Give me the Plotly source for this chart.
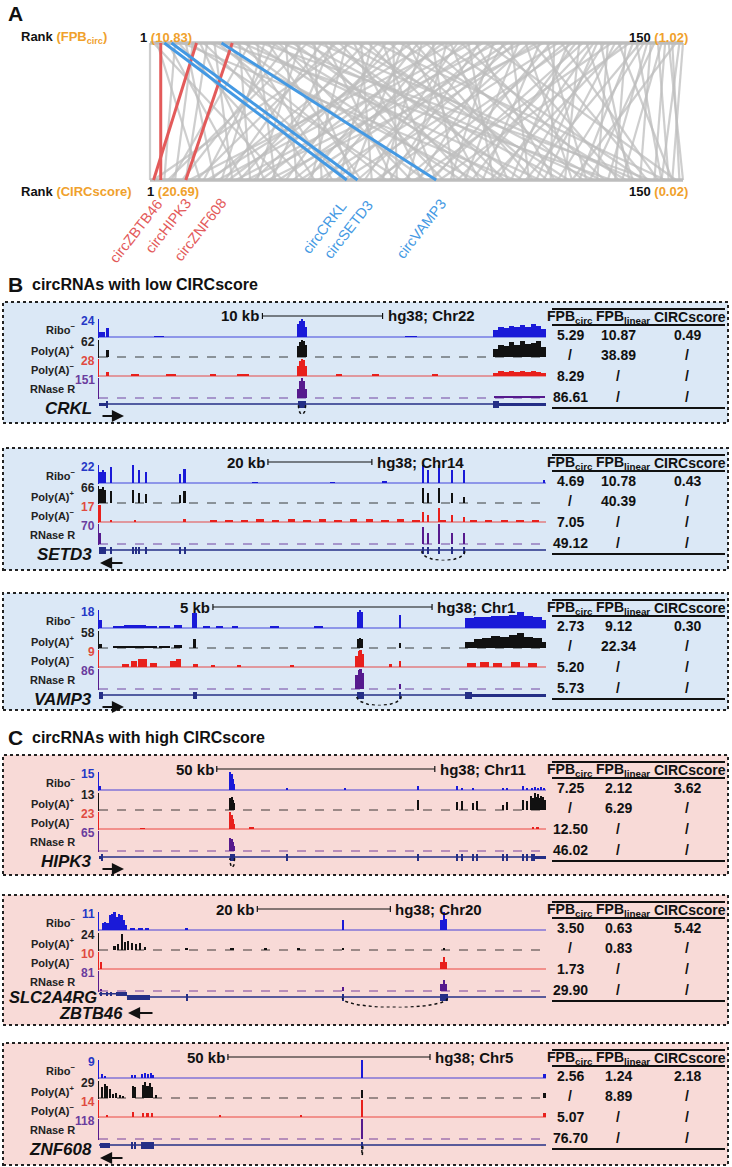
import numpy as np
import plotly.graph_objects as go

W, H = 732, 1167
FONT = "Liberation Sans, Arial, sans-serif"

# ---------------- Panel A data ----------------
FPB_RANKS = list(range(1, 151))
GRAY_CIRC_RANK = [1, 38, 15, 9, 62, 27, 84, 5, 44, 103,
                  19, 71, 8, 120, 33, 56, 11, 92, 24, 67,
                  4, 130, 47, 13, 78, 29, 110, 52, 7, 88,
                  36, 141, 21, 60, 99, 16, 74, 125, 42, 10,
                  95, 58, 31, 116, 6, 83, 49, 137, 22, 69,
                  105, 35, 14, 90, 127, 46, 2, 77, 118, 63,
                  26, 100, 54, 145, 18, 81, 39, 112, 70, 30,
                  134, 57, 93, 23, 108, 45, 66, 122, 17, 86,
                  50, 139, 32, 73, 101, 12, 61, 128, 41, 97,
                  20, 114, 68, 37, 148, 53, 85, 25, 132, 76,
                  43, 107, 59, 89, 28, 119, 65, 140, 48, 94,
                  34, 123, 80, 113, 55, 143, 72, 102, 64, 91,
                  117, 79, 136, 87, 98, 109, 135, 104, 126, 75,
                  111, 147, 96, 131, 82, 121, 144, 106, 115, 129,
                  138, 124, 146, 133, 142, 150, 149, 119, 144, 147]
HL_NAMES = ["circZBTB46", "circHIPK3", "circZNF608", "circCRKL", "circSETD3", "circVAMP3"]
HL_FPB_RANK = [14, 4, 24, 5, 7, 21]
HL_CIRC_RANK = [2, 4, 11, 56, 59, 81]
HL_GROUP = ["high", "high", "high", "low", "low", "low"]
FPB_RANGE_TEXT = ["10.83", "1.02"]
CIRC_RANGE_TEXT = ["20.69", "0.02"]

# ---------------- Panel B/C data ----------------
TRACK_NAMES = ["Ribo<sup>−</sup>", "Poly(A)<sup>+</sup>", "Poly(A)<sup>−</sup>", "RNase R"]
TABLE_HEADER = ["FPB<sub>circ</sub>", "FPB<sub>linear</sub>", "CIRCscore"]

# CRKL
CRKL_VIEW_KB = 37.2
CRKL_SCALE = (13.6, 10, "10 kb", "hg38; Chr22")
CRKL_MAX = [24, 62, 28, 151]
CRKL_RIBO = [(0.25, 7, 0.5), (0.7, 12, 0.25), (5.0, 1, 0.8), (26.0, 1, 1.0),
             (16.6, 17, 0.15), (16.75, 22, 0.15), (16.9, 24, 0.15), (17.05, 21, 0.15), (17.2, 14, 0.15),
             (33.0, 10, 0.45), (33.45, 13, 0.45), (33.9, 12, 0.45), (34.35, 15, 0.45), (34.8, 13, 0.45),
             (35.25, 16, 0.45), (35.7, 14, 0.45), (36.15, 17, 0.45), (36.6, 15, 0.45), (37.0, 11, 0.4)]
CRKL_POLYA_P = [(0.7, 25, 0.25), (16.6, 40, 0.15), (16.75, 55, 0.15), (16.9, 62, 0.15), (17.05, 58, 0.15),
                (17.2, 42, 0.15), (33.0, 30, 0.45), (33.45, 45, 0.45), (33.9, 40, 0.45), (34.35, 55, 0.45),
                (34.8, 42, 0.45), (35.25, 57, 0.45), (35.7, 48, 0.45), (36.15, 52, 0.45), (36.6, 58, 0.45),
                (37.0, 38, 0.4)]
CRKL_POLYA_M = [(0.7, 6, 0.25), (3.0, 2, 0.6), (6.0, 2, 0.8), (9.5, 2, 0.5), (12.0, 3, 1.0), (20.0, 2, 0.5),
                (23.0, 2, 0.6), (28.0, 2, 0.5), (16.6, 16, 0.15), (16.75, 24, 0.15), (16.9, 28, 0.15),
                (17.05, 26, 0.15), (17.2, 16, 0.15), (33.0, 5, 0.45), (33.45, 8, 0.45), (33.9, 6, 0.45),
                (34.35, 9, 0.45), (34.8, 6, 0.45), (35.25, 8, 0.45), (35.7, 7, 0.45), (36.15, 9, 0.45),
                (36.6, 7, 0.45), (37.0, 5, 0.4)]
CRKL_RNASE = [(16.6, 70, 0.15), (16.75, 125, 0.15), (16.9, 151, 0.15), (17.05, 130, 0.15), (17.2, 65, 0.15),
              (35.0, 18, 4.2)]
CRKL_EXONS = [(0.0, 0.6, 0.5), (0.6, 0.75, 1), (16.6, 17.2, 1), (32.8, 33.3, 1), (33.3, 37.2, 0.5)]
CRKL_SPAN = (0.0, 37.2)
CRKL_CIRC = (16.6, 17.2)
CRKL_TABLE = [["5.29", "10.87", "0.49"], ["/", "38.89", "/"], ["8.29", "/", "/"], ["86.61", "/", "/"]]

# SETD3
SETD3_VIEW_KB = 86.0
SETD3_SCALE = (32.5, 20, "20 kb", "hg38; Chr14")
SETD3_MAX = [22, 66, 17, 70]
SETD3_RIBO = [(0.3, 14, 0.45), (0.75, 16, 0.45), (1.2, 13, 0.45), (2.3, 20, 0.3), (6.5, 22, 0.3), (7.7, 16, 0.3),
              (9.0, 13, 0.3), (15.6, 11, 0.3), (16.5, 17, 0.3), (62.3, 22, 0.3), (63.3, 16, 0.3), (65.4, 22, 0.3),
              (67.9, 16, 0.3), (70.2, 16, 0.3), (85.6, 4, 0.3), (30.0, 1, 1.0), (45.0, 1, 1.0), (55.0, 1.5, 1.0)]
SETD3_POLYA_P = [(0.3, 55, 0.45), (0.75, 62, 0.45), (1.2, 50, 0.45), (2.3, 45, 0.3), (6.5, 50, 0.3),
                 (7.7, 40, 0.3), (9.0, 35, 0.3), (15.6, 30, 0.3), (16.5, 45, 0.3), (62.3, 60, 0.3),
                 (63.3, 40, 0.3), (65.4, 60, 0.3), (67.9, 40, 0.3), (70.2, 25, 0.3)]
SETD3_POLYA_M = [(0.2, 17, 0.3), (2.3, 2, 0.3), (7.0, 2, 0.3), (16.5, 3, 0.3), (62.3, 10, 0.3), (63.3, 7, 0.3),
                 (65.4, 14, 0.3), (67.9, 7, 0.3), (70.2, 5, 0.3), (22, 2, 1.4), (25, 2.5, 1.4), (28, 2, 1.4),
                 (31, 3, 1.4), (34, 2.5, 1.4), (37, 3, 1.4), (40, 2.5, 1.4), (43, 3, 1.4), (46, 2.5, 1.4),
                 (49, 3, 1.4), (52, 3, 1.4), (55, 2.5, 1.4), (58, 3, 1.4), (61, 2.5, 1.4), (66, 2, 1.4),
                 (72, 2, 1.4), (75, 2.5, 1.4), (78, 2, 1.4), (81, 2.5, 1.4), (84, 2, 1.4)]
SETD3_RNASE = [(0.2, 40, 0.3), (62.3, 60, 0.3), (63.3, 40, 0.3), (65.4, 70, 0.3), (67.9, 40, 0.3), (70.2, 40, 0.3)]
SETD3_EXONS = [(0.0, 1.4, 1), (2.2, 2.5, 1), (6.4, 6.7, 1), (7.0, 7.3, 1), (7.6, 7.9, 1), (8.9, 9.2, 1),
               (15.5, 15.8, 1), (16.4, 16.7, 1), (62.1, 62.5, 1), (63.1, 63.5, 1), (65.2, 65.6, 1),
               (67.7, 68.1, 1), (70.0, 70.4, 1)]
SETD3_SPAN = (0.0, 86.0)
SETD3_CIRC = (62.1, 70.4)
SETD3_TABLE = [["4.69", "10.78", "0.43"], ["/", "40.39", "/"], ["7.05", "/", "/"], ["49.12", "/", "/"]]

# VAMP3
VAMP3_VIEW_KB = 10.2
VAMP3_SCALE = (2.6, 5, "5 kb", "hg38; Chr1")
VAMP3_MAX = [18, 58, 9, 86]
VAMP3_RIBO = [(0.03, 8, 0.06), (0.45, 2, 0.25), (0.7, 3, 0.25), (0.95, 3, 0.25), (1.2, 2.5, 0.25), (1.5, 2, 0.25),
              (1.8, 3, 0.2), (2.18, 15, 0.1), (2.45, 1.5, 0.15), (2.75, 1.5, 0.15), (3.1, 1.5, 0.15),
              (4.0, 2, 0.2), (5.0, 1.5, 0.2), (5.91, 16, 0.05), (5.96, 18, 0.05), (6.01, 16, 0.05),
              (6.87, 13, 0.05), (8.45, 10, 0.2), (8.65, 11, 0.2), (8.85, 11, 0.2), (9.05, 12, 0.2),
              (9.25, 12, 0.2), (9.45, 13, 0.2), (9.62, 16, 0.15), (9.8, 12, 0.2), (10.0, 11, 0.2), (10.15, 8, 0.1)]
VAMP3_POLYA_P = [(0.03, 15, 0.06), (0.45, 4, 0.25), (0.7, 6, 0.25), (0.95, 8, 0.25), (1.2, 5, 0.25),
                 (1.5, 5, 0.25), (1.8, 10, 0.2), (2.18, 30, 0.08), (5.91, 30, 0.05), (5.96, 35, 0.05),
                 (6.01, 32, 0.05), (6.87, 18, 0.05), (8.45, 20, 0.2), (8.65, 30, 0.2), (8.85, 35, 0.2),
                 (9.05, 40, 0.2), (9.25, 38, 0.2), (9.45, 45, 0.2), (9.62, 50, 0.15), (9.8, 38, 0.2),
                 (10.0, 35, 0.2), (10.15, 20, 0.1)]
VAMP3_POLYA_M = [(0.6, 1.5, 0.15), (0.8, 3, 0.15), (1.0, 4, 0.2), (1.25, 2, 0.15), (1.7, 3, 0.15),
                 (1.82, 4, 0.12), (2.2, 1.5, 0.1), (2.6, 1, 0.1), (3.2, 1, 0.1), (4.4, 1, 0.1),
                 (5.88, 6, 0.04), (5.93, 8.5, 0.04), (5.97, 9, 0.04), (6.02, 7, 0.04), (6.65, 1.5, 0.05),
                 (6.87, 3, 0.05), (8.5, 2, 0.2), (8.8, 2.5, 0.2), (9.1, 2, 0.2), (9.5, 2.5, 0.2), (9.9, 2, 0.2)]
VAMP3_RNASE = [(5.88, 60, 0.04), (5.93, 82, 0.04), (5.97, 86, 0.04), (6.02, 70, 0.04), (6.87, 20, 0.04)]
VAMP3_EXONS = [(0.0, 0.1, 1), (2.14, 2.24, 1), (5.88, 6.04, 1), (6.84, 6.9, 1), (8.36, 8.5, 1), (8.5, 10.2, 0.5)]
VAMP3_SPAN = (0.0, 10.2)
VAMP3_CIRC = (5.88, 6.9)
VAMP3_TABLE = [["2.73", "9.12", "0.30"], ["/", "22.34", "/"], ["5.20", "/", "/"], ["5.73", "/", "/"]]

# HIPK3
HIPK3_VIEW_KB = 102.5
HIPK3_SCALE = (27.0, 50, "50 kb", "hg38; Chr11")
HIPK3_MAX = [15, 13, 23, 65]
HIPK3_RIBO = [(0.2, 3, 0.3), (30.15, 15, 0.3), (30.45, 13, 0.3), (30.75, 9, 0.3), (31.0, 5, 0.2), (43.1, 2, 0.3),
              (56.4, 1, 0.3), (73.2, 3, 0.3), (82.1, 3, 0.3), (83.3, 2, 0.3), (85.8, 2, 0.3), (92.7, 2, 0.3),
              (93.6, 2, 0.3), (97.2, 3, 0.3), (98.2, 2, 0.3), (99.3, 2, 0.4), (100.0, 2.5, 0.4),
              (100.7, 2, 0.4), (101.4, 2.5, 0.4), (102.1, 1.5, 0.4)]
HIPK3_POLYA_P = [(30.15, 9, 0.3), (30.45, 10, 0.3), (30.75, 8, 0.3), (31.0, 5, 0.2), (73.2, 8, 0.3),
                 (82.1, 6, 0.3), (83.3, 7, 0.3), (85.8, 5, 0.3), (86.7, 7, 0.3), (92.7, 4, 0.3), (93.6, 6, 0.3),
                 (97.2, 8, 0.3), (98.2, 7, 0.3), (99.1, 11, 0.3), (99.5, 9, 0.3), (99.9, 13, 0.3),
                 (100.3, 10, 0.3), (100.7, 12, 0.3), (101.1, 9, 0.3), (101.5, 11, 0.3), (101.9, 10, 0.3),
                 (102.3, 8, 0.3)]
HIPK3_POLYA_M = [(30.15, 23, 0.3), (30.45, 19, 0.3), (30.75, 13, 0.3), (31.0, 7, 0.2), (10.0, 1, 1.0),
                 (35.0, 1.5, 1.0), (99.5, 1.5, 0.6), (100.5, 2, 0.6)]
HIPK3_RNASE = [(30.15, 42, 0.3), (30.45, 38, 0.3), (30.75, 28, 0.3), (31.0, 15, 0.2)]
HIPK3_EXONS = [(0.0, 0.5, 0.5), (0.5, 0.8, 1), (30.0, 31.1, 1), (43.0, 43.3, 1), (73.1, 73.4, 1), (82.0, 82.3, 1),
               (83.2, 83.5, 1), (85.7, 86.0, 1), (86.6, 86.9, 1), (92.6, 92.9, 1), (93.5, 93.8, 1),
               (97.1, 97.4, 1), (98.1, 98.4, 1), (99.0, 100.0, 1), (100.0, 102.5, 0.5)]
HIPK3_SPAN = (0.0, 102.5)
HIPK3_CIRC = (30.0, 31.1)
HIPK3_TABLE = [["7.25", "2.12", "3.62"], ["/", "6.29", "/"], ["12.50", "/", "/"], ["46.02", "/", "/"]]

# ZBTB46 (with SLC2A4RG)
ZBTB46_VIEW_KB = 67.2
ZBTB46_SCALE = (23.8, 20, "20 kb", "hg38; Chr20")
ZBTB46_MAX = [11, 24, 10, 81]
ZBTB46_RIBO = [(0.6, 4, 0.35), (0.95, 5, 0.35), (1.3, 4, 0.35), (1.65, 9, 0.35), (2.0, 10, 0.35), (2.35, 11, 0.35),
               (2.7, 8, 0.35), (3.05, 10, 0.35), (3.4, 9, 0.35), (3.75, 6, 0.35), (4.1, 3, 0.35), (5.0, 1.5, 0.8),
               (6.2, 1.5, 0.8), (7.2, 1.2, 0.6), (13.2, 1.5, 0.3), (36.7, 6, 0.25), (51.5, 6, 0.3),
               (51.8, 11, 0.3), (52.1, 7, 0.3)]
ZBTB46_POLYA_P = [(2.4, 6, 0.3), (2.9, 8, 0.3), (3.5, 23, 0.3), (3.9, 12, 0.3), (4.4, 13, 0.3), (5.0, 10, 0.3),
                  (5.6, 9, 0.3), (6.2, 10, 0.3), (6.9, 4, 0.3), (13.2, 1.5, 0.3), (20.0, 1.5, 0.5),
                  (25.0, 2, 0.5), (30.0, 1.5, 0.5), (36.7, 1.5, 0.3), (51.8, 3, 0.3)]
ZBTB46_POLYA_M = [(0.3, 4, 0.2), (51.5, 4, 0.3), (51.8, 7, 0.3), (52.1, 4, 0.3)]
ZBTB46_RNASE = [(0.3, 10, 0.2), (36.7, 15, 0.25), (51.5, 28, 0.3), (51.8, 45, 0.3), (52.1, 30, 0.3)]
ZBTB46_EXONS = [(4.2, 7.7, 0.6), (13.1, 13.4, 1), (36.6, 36.9, 1), (51.3, 52.4, 1)]
ZBTB46_SPAN = (4.2, 67.2)
SLC2A4RG_EXONS = [(0.2, 0.5, 0.6), (1.0, 1.3, 0.6), (1.8, 2.0, 0.6), (2.5, 4.2, 0.6)]
SLC2A4RG_SPAN = (0.0, 4.2)
ZBTB46_CIRC = (36.6, 52.4)
ZBTB46_TABLE = [["3.50", "0.63", "5.42"], ["/", "0.83", "/"], ["1.73", "/", "/"], ["29.90", "/", "/"]]

# ZNF608
ZNF608_VIEW_KB = 110.6
ZNF608_SCALE = (31.9, 50, "50 kb", "hg38; Chr5")
ZNF608_MAX = [9, 29, 14, 118]
ZNF608_RIBO = [(0.7, 2, 0.4), (1.5, 1, 0.4), (8.2, 1.5, 0.4), (8.9, 1.5, 0.4), (10.8, 2, 0.4), (11.5, 2.5, 0.4),
               (12.2, 2, 0.4), (12.9, 2.5, 0.4), (13.5, 1.5, 0.4), (65.1, 9, 0.25), (110.3, 2, 0.4)]
ZNF608_POLYA_P = [(0.8, 18, 0.5), (1.4, 24, 0.5), (2.0, 20, 0.5), (2.6, 16, 0.5), (3.5, 6, 0.5), (4.3, 8, 0.5),
                  (5.2, 5, 0.5), (5.9, 4, 0.5), (8.3, 20, 0.5), (8.9, 18, 0.5), (10.8, 22, 0.5), (11.4, 27, 0.5),
                  (12.0, 20, 0.5), (12.6, 25, 0.5), (13.2, 18, 0.5), (14.0, 5, 0.5), (65.1, 14, 0.25),
                  (110.3, 8, 0.4)]
ZNF608_POLYA_M = [(2.0, 1, 0.5), (8.5, 4, 0.4), (11.0, 3, 0.5), (12.0, 3.5, 0.5), (13.0, 3, 0.5), (30.0, 1, 0.5),
                  (50.0, 1, 0.5), (65.1, 14, 0.25), (110.3, 3, 0.4)]
ZNF608_RNASE = [(65.1, 118, 0.25)]
ZNF608_EXONS = [(0.3, 2.7, 0.6), (8.1, 8.4, 1), (8.8, 9.1, 1), (10.3, 13.5, 1), (65.0, 65.3, 1)]
ZNF608_SPAN = (0.0, 110.6)
ZNF608_CIRC = (65.0, 65.3)
ZNF608_TABLE = [["2.56", "1.24", "2.18"], ["/", "8.89", "/"], ["5.07", "/", "/"], ["76.70", "/", "/"]]

# ---------------- styling / layout constants ----------------
TRACK_COLORS = ["#1a1ad8", "#111111", "#e8201c", "#561a8e"]
NUM_COLORS = ["#2538c6", "#222222", "#e04a40", "#6a3c9e"]
GENE_COLOR = "#252f86"
BOX_FILL = {"low": "#dbe8f6", "high": "#f8dad7"}
HL_COLOR = {"high": "#e35a5a", "low": "#4499e3"}
ORANGE = "#f0a12c"

BOX_TOPS = [302, 448, 593, 755, 895, 1043]
BOX_H = [121, 122, 117, 120, 130, 122]
TRACK_PX = [(17, 35), (38, 55), (57, 74), (76, 96)]
GENE_PX = (95.5, 112.5)
GENE_RANGE = (-2.6, 1.6)
X0_PX, X1_PX = 99, 546


def px(x):
    return x / W


def py(y):
    return 1 - y / H


fig = go.Figure()
layout = {}
annotations = []
shapes = []


def axname(kind, i):
    return (kind + "axis") if i == 1 else f"{kind}axis{i}"


def axref(kind, i):
    return kind if i == 1 else f"{kind}{i}"


def txt(x, y, text, size=12, color="#111", xanchor="center", yanchor="middle", bold=True, italic=False,
        angle=0):
    t = text
    if bold:
        t = f"<b>{t}</b>"
    if italic:
        t = f"<i>{t}</i>"
    annotations.append(dict(x=px(x), y=py(y), xref="paper", yref="paper", text=t, showarrow=False,
                            xanchor=xanchor, yanchor=yanchor, textangle=angle, borderpad=0,
                            font=dict(family=FONT, size=size, color=color)))


# ---------------- Panel A ----------------
PX_PER_RANK = (683 - 150) / 149.0
xlo = 150 - PX_PER_RANK
xhi = 683 + PX_PER_RANK
layout["xaxis"] = dict(domain=[px(xlo), px(xhi)], range=[0, 151], visible=False, fixedrange=True)
layout["yaxis"] = dict(domain=[py(180 + 0.05 * 137), py(43 - 0.05 * 137)], range=[-0.05, 1.05],
                       visible=False, fixedrange=True)

hl_top = set(HL_FPB_RANK)
gx, gy = [], []
for top, bot in zip(FPB_RANKS, GRAY_CIRC_RANK):
    if top in hl_top:
        continue
    gx += [top, bot, None]
    gy += [1, 0, None]
fig.add_trace(go.Scatter(x=gx, y=gy, mode="lines", line=dict(color="rgba(190,190,190,0.75)", width=2.2),
                         hoverinfo="skip", showlegend=False, xaxis="x", yaxis="y"))
for yv in (1, 0):
    fig.add_trace(go.Scatter(x=[FPB_RANKS[0], FPB_RANKS[-1]], y=[yv, yv], mode="lines",
                             line=dict(color="#bdbdbd", width=3.5), hoverinfo="skip", showlegend=False,
                             xaxis="x", yaxis="y"))
for name, t, b, g in zip(HL_NAMES, HL_FPB_RANK, HL_CIRC_RANK, HL_GROUP):
    fig.add_trace(go.Scatter(x=[t, b], y=[1, 0], mode="lines", line=dict(color=HL_COLOR[g], width=3),
                             hoverinfo="skip", showlegend=False, xaxis="x", yaxis="y"))

txt(7, 14, "A", size=21, xanchor="left")
txt(20, 38, f"Rank <span style='color:{ORANGE}'>(FPB<sub>circ</sub>)</span>", size=13, xanchor="left")
txt(20, 192, f"Rank <span style='color:{ORANGE}'>(CIRCscore)</span>", size=13, xanchor="left")
txt(139, 37, f"1 <span style='color:{ORANGE}'>({FPB_RANGE_TEXT[0]})</span>", size=13, xanchor="left")
txt(628, 37, f"150 <span style='color:{ORANGE}'>({FPB_RANGE_TEXT[1]})</span>", size=13, xanchor="left")
txt(146, 192, f"1 <span style='color:{ORANGE}'>({CIRC_RANGE_TEXT[0]})</span>", size=13, xanchor="left")
txt(628, 192, f"150 <span style='color:{ORANGE}'>({CIRC_RANGE_TEXT[1]})</span>", size=13, xanchor="left")

HL_LABEL_CENTERS = [(136, 231), (168, 226), (200, 230), (324, 228), (348, 230), (421, 229)]
for name, g, (cx, cy) in zip(HL_NAMES, HL_GROUP, HL_LABEL_CENTERS):
    txt(cx, cy, name, size=14.5, color=HL_COLOR[g], bold=False, angle=-52)

# ---------------- Panels B / C ----------------
txt(7, 285, "B", size=21, xanchor="left")
txt(31, 285, "circRNAs with low CIRCscore", size=16, xanchor="left")
txt(7, 737, "C", size=21, xanchor="left")
txt(31, 737, "circRNAs with high CIRCscore", size=16, xanchor="left")

loci = [
    ("CRKL", CRKL_VIEW_KB, CRKL_SCALE, CRKL_MAX, [CRKL_RIBO, CRKL_POLYA_P, CRKL_POLYA_M, CRKL_RNASE],
     CRKL_EXONS, CRKL_SPAN, CRKL_CIRC, "+", CRKL_TABLE, "low"),
    ("SETD3", SETD3_VIEW_KB, SETD3_SCALE, SETD3_MAX, [SETD3_RIBO, SETD3_POLYA_P, SETD3_POLYA_M, SETD3_RNASE],
     SETD3_EXONS, SETD3_SPAN, SETD3_CIRC, "-", SETD3_TABLE, "low"),
    ("VAMP3", VAMP3_VIEW_KB, VAMP3_SCALE, VAMP3_MAX, [VAMP3_RIBO, VAMP3_POLYA_P, VAMP3_POLYA_M, VAMP3_RNASE],
     VAMP3_EXONS, VAMP3_SPAN, VAMP3_CIRC, "+", VAMP3_TABLE, "low"),
    ("HIPK3", HIPK3_VIEW_KB, HIPK3_SCALE, HIPK3_MAX, [HIPK3_RIBO, HIPK3_POLYA_P, HIPK3_POLYA_M, HIPK3_RNASE],
     HIPK3_EXONS, HIPK3_SPAN, HIPK3_CIRC, "+", HIPK3_TABLE, "high"),
    ("ZBTB46", ZBTB46_VIEW_KB, ZBTB46_SCALE, ZBTB46_MAX,
     [ZBTB46_RIBO, ZBTB46_POLYA_P, ZBTB46_POLYA_M, ZBTB46_RNASE],
     ZBTB46_EXONS, ZBTB46_SPAN, ZBTB46_CIRC, "-", ZBTB46_TABLE, "high"),
    ("ZNF608", ZNF608_VIEW_KB, ZNF608_SCALE, ZNF608_MAX,
     [ZNF608_RIBO, ZNF608_POLYA_P, ZNF608_POLYA_M, ZNF608_RNASE],
     ZNF608_EXONS, ZNF608_SPAN, ZNF608_CIRC, "-", ZNF608_TABLE, "high"),
]

COL_HEAD_X = [570, 623, 690]
COL_VAL_X = [570, 618, 687]
ROW_Y = [33, 53, 74, 95]

for k, (gene, L, scale, maxes, tracks, exons, span, circ, strand, table, grp) in enumerate(loci):
    T = BOX_TOPS[k]
    B = T + BOX_H[k]
    xi = 2 + k
    xa = axref("x", xi)
    shapes.append(dict(type="rect", xref="paper", yref="paper", x0=px(3), x1=px(728), y0=py(B), y1=py(T),
                       fillcolor=BOX_FILL[grp], line=dict(color="#222", width=2, dash="dot"), layer="below"))
    first_y = 2 + k * 5
    layout[axname("x", xi)] = dict(domain=[px(X0_PX), px(X1_PX)], range=[0, L], visible=False,
                                   anchor=axref("y", first_y), fixedrange=True)
    for j in range(4):
        yi = first_y + j
        ya = axref("y", yi)
        top, bot = T + TRACK_PX[j][0], T + TRACK_PX[j][1]
        m = maxes[j]
        pad = 1.2 * m / (bot - top)
        layout[axname("y", yi)] = dict(domain=[py(bot + 1.2), py(top)], range=[-pad, m], showline=True,
                                       linecolor=TRACK_COLORS[j], linewidth=1.3, showticklabels=False,
                                       ticks="", showgrid=False, zeroline=False, anchor=xa, fixedrange=True)
        pk = tracks[j]
        fig.add_trace(go.Bar(x=[p[0] for p in pk], y=[p[1] for p in pk], width=[p[2] for p in pk],
                             marker=dict(color=TRACK_COLORS[j], line=dict(width=0)), xaxis=xa, yaxis=ya,
                             hoverinfo="skip", showlegend=False))
        fig.add_trace(go.Scatter(x=[0, L], y=[0, 0], mode="lines",
                                 line=dict(color=TRACK_COLORS[j], width=1, dash="dash" if j in (1, 3) else "solid"),
                                 xaxis=xa, yaxis=ya, hoverinfo="skip", showlegend=False, opacity=0.8))
        txt(76, (top + bot) / 2 + 1, TRACK_NAMES[j], size=11, color="#222", xanchor="right")
        txt(96, top + 2, str(m), size=12, color=NUM_COLORS[j], xanchor="right")
    yi = first_y + 4
    ya = axref("y", yi)
    layout[axname("y", yi)] = dict(domain=[py(T + GENE_PX[1]), py(T + GENE_PX[0])], range=list(GENE_RANGE),
                                   visible=False, anchor=xa, fixedrange=True)
    rows = [(exons, span, 0.0)]
    if gene == "ZBTB46":
        rows = [(SLC2A4RG_EXONS, SLC2A4RG_SPAN, 0.8), (exons, span, 0.0)]
    for ex, sp, off in rows:
        fig.add_trace(go.Scatter(x=[sp[0], sp[1]], y=[off, off], mode="lines",
                                 line=dict(color=GENE_COLOR, width=1.5), xaxis=xa, yaxis=ya,
                                 hoverinfo="skip", showlegend=False))
        fig.add_trace(go.Bar(x=[(e[0] + e[1]) / 2 for e in ex], width=[e[1] - e[0] for e in ex],
                             y=[1.8 * e[2] for e in ex], base=[off - 0.9 * e[2] for e in ex],
                             marker=dict(color=GENE_COLOR, line=dict(width=0)), xaxis=xa, yaxis=ya,
                             hoverinfo="skip", showlegend=False))
    c0, c1 = circ
    th = np.linspace(0, np.pi, 40)
    cx, r = (c0 + c1) / 2, (c1 - c0) / 2
    fig.add_trace(go.Scatter(x=cx + r * np.cos(th), y=-2.3 * np.sin(th) - 0.3, mode="lines",
                             line=dict(color="#111", width=1.5, dash="dot"), xaxis=xa, yaxis=ya,
                             hoverinfo="skip", showlegend=False))
    s0, slen, slab, chrlab = scale
    sy = T + 14
    shapes.append(dict(type="line", xref=xa, yref="paper", x0=s0, x1=s0 + slen, y0=py(sy), y1=py(sy),
                       line=dict(color="#111", width=1.2)))
    for xv in (s0, s0 + slen):
        shapes.append(dict(type="line", xref=xa, yref="paper", x0=xv, x1=xv, y0=py(sy - 3), y1=py(sy + 3),
                           line=dict(color="#111", width=1.2)))
    annotations.append(dict(x=s0, y=py(sy), xref=xa, yref="paper", text=f"<b>{slab}</b>", showarrow=False,
                            xanchor="right", yanchor="middle", xshift=-1,
                            font=dict(family=FONT, size=15, color="#111")))
    annotations.append(dict(x=s0 + slen, y=py(sy), xref=xa, yref="paper", text=f"<b>{chrlab}</b>",
                            showarrow=False, xanchor="left", yanchor="middle", xshift=3,
                            font=dict(family=FONT, size=15, color="#111")))
    if gene == "ZBTB46":
        txt(98, T + 102, "SLC2A4RG", size=16.5, italic=True, xanchor="right")
        txt(124, T + 118, "ZBTB46", size=16.5, italic=True, xanchor="right")
        ah, at_, ay_ = 128, 154, T + 118
    else:
        txt(93, T + 106, gene, size=17, italic=True, xanchor="right")
        if strand == "+":
            ah, at_, ay_ = 124, 101, T + 114
        else:
            ah, at_, ay_ = 100, 124, T + 115
    annotations.append(dict(x=px(ah), y=py(ay_), xref="paper", yref="paper", ax=at_ - ah, ay=0, text="",
                            showarrow=True, arrowhead=2, arrowsize=1.1, arrowwidth=2.2, arrowcolor="#111"))
    for yv in (T + 7, T + 23, T + 106):
        shapes.append(dict(type="line", xref="paper", yref="paper", x0=px(552), x1=px(725), y0=py(yv),
                           y1=py(yv), line=dict(color="#111", width=2.2)))
    for cxh, h in zip(COL_HEAD_X, TABLE_HEADER):
        txt(cxh, T + 15, h, size=14)
    for row, ry in zip(table, ROW_Y):
        for cxv, v in zip(COL_VAL_X, row):
            txt(cxv, T + ry, v, size=14)

layout.update(dict(width=W, height=H, margin=dict(l=0, r=0, t=0, b=0), paper_bgcolor="white",
                   plot_bgcolor="rgba(0,0,0,0)", barmode="overlay", bargap=0, showlegend=False,
                   annotations=annotations, shapes=shapes, font=dict(family=FONT)))
fig.update_layout(**layout)
fig.write_html("out.html", config={"displayModeBar": False},
               post_script="document.body.style.margin='0px';document.body.style.padding='0px';"
                           "document.documentElement.style.overflow='hidden';")
